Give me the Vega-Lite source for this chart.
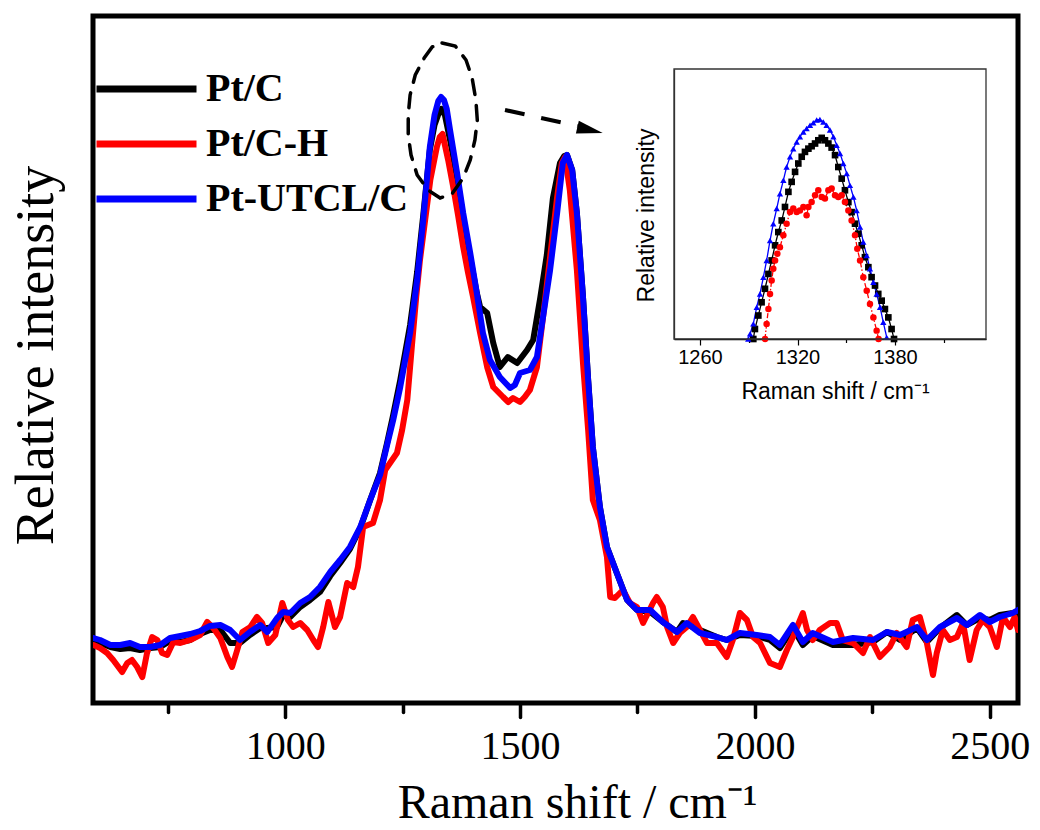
{
  "$schema": "https://vega.github.io/schema/vega-lite/v6.json",
  "width": 925,
  "height": 687,
  "autosize": {"type": "none"},
  "padding": {"left": 93, "top": 16, "right": 22, "bottom": 127},
  "config": {"view": {"stroke": "#000", "strokeWidth": 5}, "font": "Liberation Serif"},
  "datasets": {
    "main": [
      {"s":"Pt/C","x":592,"y":62},{"s":"Pt/C","x":606,"y":60},{"s":"Pt/C","x":628,"y":56},{"s":"Pt/C","x":649,"y":54},{"s":"Pt/C","x":670,"y":55},{"s":"Pt/C","x":691,"y":53},{"s":"Pt/C","x":713,"y":55},{"s":"Pt/C","x":734,"y":56},{"s":"Pt/C","x":755,"y":62},{"s":"Pt/C","x":777,"y":61},{"s":"Pt/C","x":798,"y":63},{"s":"Pt/C","x":819,"y":69},{"s":"Pt/C","x":840,"y":73},{"s":"Pt/C","x":862,"y":73},{"s":"Pt/C","x":883,"y":60},{"s":"Pt/C","x":904,"y":60},{"s":"Pt/C","x":925,"y":68},{"s":"Pt/C","x":947,"y":75},{"s":"Pt/C","x":962,"y":75},{"s":"Pt/C","x":983,"y":76},{"s":"Pt/C","x":996,"y":88},{"s":"Pt/C","x":1011,"y":86},{"s":"Pt/C","x":1032,"y":96},{"s":"Pt/C","x":1053,"y":103},{"s":"Pt/C","x":1074,"y":111},{"s":"Pt/C","x":1096,"y":127},{"s":"Pt/C","x":1117,"y":140},{"s":"Pt/C","x":1138,"y":154},{"s":"Pt/C","x":1160,"y":175},{"s":"Pt/C","x":1181,"y":203},{"s":"Pt/C","x":1202,"y":230},{"s":"Pt/C","x":1217,"y":260},{"s":"Pt/C","x":1230,"y":288},{"s":"Pt/C","x":1245,"y":323},{"s":"Pt/C","x":1266,"y":378},{"s":"Pt/C","x":1281,"y":431},{"s":"Pt/C","x":1294,"y":488},{"s":"Pt/C","x":1308,"y":553},{"s":"Pt/C","x":1318,"y":578},{"s":"Pt/C","x":1327,"y":590},{"s":"Pt/C","x":1333,"y":594},{"s":"Pt/C","x":1340,"y":588},{"s":"Pt/C","x":1351,"y":563},{"s":"Pt/C","x":1366,"y":525},{"s":"Pt/C","x":1379,"y":485},{"s":"Pt/C","x":1394,"y":445},{"s":"Pt/C","x":1408,"y":410},{"s":"Pt/C","x":1415,"y":396},{"s":"Pt/C","x":1430,"y":390},{"s":"Pt/C","x":1443,"y":360},{"s":"Pt/C","x":1457,"y":336},{"s":"Pt/C","x":1474,"y":346},{"s":"Pt/C","x":1494,"y":340},{"s":"Pt/C","x":1515,"y":353},{"s":"Pt/C","x":1528,"y":363},{"s":"Pt/C","x":1543,"y":405},{"s":"Pt/C","x":1557,"y":448},{"s":"Pt/C","x":1570,"y":505},{"s":"Pt/C","x":1585,"y":540},{"s":"Pt/C","x":1594,"y":547},{"s":"Pt/C","x":1600,"y":548},{"s":"Pt/C","x":1611,"y":533},{"s":"Pt/C","x":1621,"y":490},{"s":"Pt/C","x":1634,"y":406},{"s":"Pt/C","x":1645,"y":323},{"s":"Pt/C","x":1655,"y":256},{"s":"Pt/C","x":1670,"y":196},{"s":"Pt/C","x":1685,"y":156},{"s":"Pt/C","x":1706,"y":130},{"s":"Pt/C","x":1728,"y":103},{"s":"Pt/C","x":1749,"y":93},{"s":"Pt/C","x":1777,"y":91},{"s":"Pt/C","x":1804,"y":81},{"s":"Pt/C","x":1834,"y":71},{"s":"Pt/C","x":1847,"y":80},{"s":"Pt/C","x":1883,"y":73},{"s":"Pt/C","x":1919,"y":66},{"s":"Pt/C","x":1940,"y":63},{"s":"Pt/C","x":1968,"y":68},{"s":"Pt/C","x":2004,"y":67},{"s":"Pt/C","x":2032,"y":63},{"s":"Pt/C","x":2053,"y":55},{"s":"Pt/C","x":2081,"y":75},{"s":"Pt/C","x":2102,"y":58},{"s":"Pt/C","x":2123,"y":67},{"s":"Pt/C","x":2166,"y":58},{"s":"Pt/C","x":2209,"y":58},{"s":"Pt/C","x":2251,"y":61},{"s":"Pt/C","x":2281,"y":71},{"s":"Pt/C","x":2309,"y":63},{"s":"Pt/C","x":2345,"y":75},{"s":"Pt/C","x":2366,"y":61},{"s":"Pt/C","x":2394,"y":75},{"s":"Pt/C","x":2430,"y":88},{"s":"Pt/C","x":2451,"y":78},{"s":"Pt/C","x":2479,"y":85},{"s":"Pt/C","x":2500,"y":83},{"s":"Pt/C","x":2521,"y":88},{"s":"Pt/C","x":2549,"y":90},{"s":"Pt/C","x":2560,"y":91},
      {"s":"Pt/C-H","x":592,"y":58},{"s":"Pt/C-H","x":606,"y":55},{"s":"Pt/C-H","x":621,"y":50},{"s":"Pt/C-H","x":634,"y":43},{"s":"Pt/C-H","x":653,"y":31},{"s":"Pt/C-H","x":664,"y":40},{"s":"Pt/C-H","x":674,"y":43},{"s":"Pt/C-H","x":685,"y":36},{"s":"Pt/C-H","x":696,"y":26},{"s":"Pt/C-H","x":706,"y":50},{"s":"Pt/C-H","x":717,"y":66},{"s":"Pt/C-H","x":728,"y":63},{"s":"Pt/C-H","x":738,"y":50},{"s":"Pt/C-H","x":749,"y":48},{"s":"Pt/C-H","x":762,"y":61},{"s":"Pt/C-H","x":777,"y":60},{"s":"Pt/C-H","x":798,"y":63},{"s":"Pt/C-H","x":819,"y":68},{"s":"Pt/C-H","x":834,"y":81},{"s":"Pt/C-H","x":847,"y":75},{"s":"Pt/C-H","x":862,"y":65},{"s":"Pt/C-H","x":877,"y":46},{"s":"Pt/C-H","x":887,"y":36},{"s":"Pt/C-H","x":898,"y":53},{"s":"Pt/C-H","x":909,"y":71},{"s":"Pt/C-H","x":926,"y":76},{"s":"Pt/C-H","x":940,"y":86},{"s":"Pt/C-H","x":951,"y":80},{"s":"Pt/C-H","x":964,"y":60},{"s":"Pt/C-H","x":979,"y":68},{"s":"Pt/C-H","x":994,"y":100},{"s":"Pt/C-H","x":1006,"y":83},{"s":"Pt/C-H","x":1017,"y":76},{"s":"Pt/C-H","x":1032,"y":80},{"s":"Pt/C-H","x":1047,"y":73},{"s":"Pt/C-H","x":1060,"y":63},{"s":"Pt/C-H","x":1070,"y":56},{"s":"Pt/C-H","x":1081,"y":76},{"s":"Pt/C-H","x":1092,"y":101},{"s":"Pt/C-H","x":1106,"y":76},{"s":"Pt/C-H","x":1117,"y":86},{"s":"Pt/C-H","x":1132,"y":120},{"s":"Pt/C-H","x":1145,"y":116},{"s":"Pt/C-H","x":1155,"y":136},{"s":"Pt/C-H","x":1166,"y":176},{"s":"Pt/C-H","x":1187,"y":180},{"s":"Pt/C-H","x":1202,"y":203},{"s":"Pt/C-H","x":1213,"y":233},{"s":"Pt/C-H","x":1238,"y":250},{"s":"Pt/C-H","x":1249,"y":273},{"s":"Pt/C-H","x":1260,"y":303},{"s":"Pt/C-H","x":1270,"y":358},{"s":"Pt/C-H","x":1279,"y":406},{"s":"Pt/C-H","x":1287,"y":443},{"s":"Pt/C-H","x":1298,"y":483},{"s":"Pt/C-H","x":1309,"y":523},{"s":"Pt/C-H","x":1323,"y":556},{"s":"Pt/C-H","x":1329,"y":566},{"s":"Pt/C-H","x":1335,"y":569},{"s":"Pt/C-H","x":1347,"y":543},{"s":"Pt/C-H","x":1357,"y":518},{"s":"Pt/C-H","x":1368,"y":488},{"s":"Pt/C-H","x":1379,"y":456},{"s":"Pt/C-H","x":1389,"y":431},{"s":"Pt/C-H","x":1400,"y":406},{"s":"Pt/C-H","x":1415,"y":370},{"s":"Pt/C-H","x":1430,"y":336},{"s":"Pt/C-H","x":1443,"y":316},{"s":"Pt/C-H","x":1464,"y":306},{"s":"Pt/C-H","x":1475,"y":301},{"s":"Pt/C-H","x":1485,"y":305},{"s":"Pt/C-H","x":1500,"y":301},{"s":"Pt/C-H","x":1510,"y":306},{"s":"Pt/C-H","x":1521,"y":313},{"s":"Pt/C-H","x":1536,"y":336},{"s":"Pt/C-H","x":1549,"y":386},{"s":"Pt/C-H","x":1564,"y":446},{"s":"Pt/C-H","x":1579,"y":506},{"s":"Pt/C-H","x":1589,"y":540},{"s":"Pt/C-H","x":1596,"y":546},{"s":"Pt/C-H","x":1606,"y":513},{"s":"Pt/C-H","x":1621,"y":433},{"s":"Pt/C-H","x":1634,"y":340},{"s":"Pt/C-H","x":1645,"y":273},{"s":"Pt/C-H","x":1655,"y":203},{"s":"Pt/C-H","x":1670,"y":183},{"s":"Pt/C-H","x":1685,"y":146},{"s":"Pt/C-H","x":1692,"y":106},{"s":"Pt/C-H","x":1702,"y":105},{"s":"Pt/C-H","x":1719,"y":113},{"s":"Pt/C-H","x":1734,"y":100},{"s":"Pt/C-H","x":1749,"y":96},{"s":"Pt/C-H","x":1762,"y":80},{"s":"Pt/C-H","x":1783,"y":100},{"s":"Pt/C-H","x":1791,"y":106},{"s":"Pt/C-H","x":1804,"y":96},{"s":"Pt/C-H","x":1813,"y":76},{"s":"Pt/C-H","x":1826,"y":60},{"s":"Pt/C-H","x":1840,"y":70},{"s":"Pt/C-H","x":1855,"y":76},{"s":"Pt/C-H","x":1868,"y":86},{"s":"Pt/C-H","x":1883,"y":73},{"s":"Pt/C-H","x":1898,"y":60},{"s":"Pt/C-H","x":1919,"y":60},{"s":"Pt/C-H","x":1940,"y":46},{"s":"Pt/C-H","x":1953,"y":63},{"s":"Pt/C-H","x":1968,"y":90},{"s":"Pt/C-H","x":1983,"y":83},{"s":"Pt/C-H","x":1996,"y":66},{"s":"Pt/C-H","x":2011,"y":60},{"s":"Pt/C-H","x":2032,"y":40},{"s":"Pt/C-H","x":2053,"y":36},{"s":"Pt/C-H","x":2068,"y":53},{"s":"Pt/C-H","x":2081,"y":66},{"s":"Pt/C-H","x":2096,"y":83},{"s":"Pt/C-H","x":2102,"y":90},{"s":"Pt/C-H","x":2111,"y":73},{"s":"Pt/C-H","x":2123,"y":63},{"s":"Pt/C-H","x":2138,"y":73},{"s":"Pt/C-H","x":2160,"y":80},{"s":"Pt/C-H","x":2174,"y":80},{"s":"Pt/C-H","x":2187,"y":63},{"s":"Pt/C-H","x":2209,"y":60},{"s":"Pt/C-H","x":2230,"y":50},{"s":"Pt/C-H","x":2245,"y":66},{"s":"Pt/C-H","x":2266,"y":46},{"s":"Pt/C-H","x":2287,"y":56},{"s":"Pt/C-H","x":2302,"y":70},{"s":"Pt/C-H","x":2323,"y":56},{"s":"Pt/C-H","x":2336,"y":83},{"s":"Pt/C-H","x":2351,"y":86},{"s":"Pt/C-H","x":2366,"y":60},{"s":"Pt/C-H","x":2379,"y":28},{"s":"Pt/C-H","x":2387,"y":50},{"s":"Pt/C-H","x":2400,"y":73},{"s":"Pt/C-H","x":2415,"y":63},{"s":"Pt/C-H","x":2430,"y":66},{"s":"Pt/C-H","x":2443,"y":80},{"s":"Pt/C-H","x":2457,"y":43},{"s":"Pt/C-H","x":2472,"y":73},{"s":"Pt/C-H","x":2485,"y":83},{"s":"Pt/C-H","x":2500,"y":76},{"s":"Pt/C-H","x":2515,"y":56},{"s":"Pt/C-H","x":2528,"y":86},{"s":"Pt/C-H","x":2543,"y":76},{"s":"Pt/C-H","x":2553,"y":86},{"s":"Pt/C-H","x":2560,"y":73},
      {"s":"Pt-UTCL/C","x":592,"y":65},{"s":"Pt-UTCL/C","x":606,"y":63},{"s":"Pt-UTCL/C","x":628,"y":58},{"s":"Pt-UTCL/C","x":649,"y":58},{"s":"Pt-UTCL/C","x":670,"y":60},{"s":"Pt-UTCL/C","x":691,"y":56},{"s":"Pt-UTCL/C","x":713,"y":56},{"s":"Pt-UTCL/C","x":734,"y":58},{"s":"Pt-UTCL/C","x":755,"y":65},{"s":"Pt-UTCL/C","x":777,"y":67},{"s":"Pt-UTCL/C","x":798,"y":69},{"s":"Pt-UTCL/C","x":819,"y":72},{"s":"Pt-UTCL/C","x":840,"y":77},{"s":"Pt-UTCL/C","x":862,"y":78},{"s":"Pt-UTCL/C","x":883,"y":73},{"s":"Pt-UTCL/C","x":904,"y":63},{"s":"Pt-UTCL/C","x":925,"y":71},{"s":"Pt-UTCL/C","x":947,"y":78},{"s":"Pt-UTCL/C","x":962,"y":71},{"s":"Pt-UTCL/C","x":983,"y":85},{"s":"Pt-UTCL/C","x":996,"y":91},{"s":"Pt-UTCL/C","x":1011,"y":90},{"s":"Pt-UTCL/C","x":1032,"y":100},{"s":"Pt-UTCL/C","x":1053,"y":106},{"s":"Pt-UTCL/C","x":1074,"y":116},{"s":"Pt-UTCL/C","x":1096,"y":131},{"s":"Pt-UTCL/C","x":1117,"y":143},{"s":"Pt-UTCL/C","x":1138,"y":156},{"s":"Pt-UTCL/C","x":1160,"y":176},{"s":"Pt-UTCL/C","x":1181,"y":203},{"s":"Pt-UTCL/C","x":1202,"y":228},{"s":"Pt-UTCL/C","x":1217,"y":258},{"s":"Pt-UTCL/C","x":1230,"y":283},{"s":"Pt-UTCL/C","x":1245,"y":316},{"s":"Pt-UTCL/C","x":1266,"y":370},{"s":"Pt-UTCL/C","x":1281,"y":423},{"s":"Pt-UTCL/C","x":1294,"y":483},{"s":"Pt-UTCL/C","x":1308,"y":556},{"s":"Pt-UTCL/C","x":1318,"y":588},{"s":"Pt-UTCL/C","x":1326,"y":602},{"s":"Pt-UTCL/C","x":1332,"y":606},{"s":"Pt-UTCL/C","x":1338,"y":603},{"s":"Pt-UTCL/C","x":1344,"y":594},{"s":"Pt-UTCL/C","x":1351,"y":573},{"s":"Pt-UTCL/C","x":1366,"y":530},{"s":"Pt-UTCL/C","x":1379,"y":490},{"s":"Pt-UTCL/C","x":1394,"y":450},{"s":"Pt-UTCL/C","x":1408,"y":410},{"s":"Pt-UTCL/C","x":1421,"y":370},{"s":"Pt-UTCL/C","x":1436,"y":343},{"s":"Pt-UTCL/C","x":1457,"y":326},{"s":"Pt-UTCL/C","x":1479,"y":315},{"s":"Pt-UTCL/C","x":1489,"y":318},{"s":"Pt-UTCL/C","x":1500,"y":330},{"s":"Pt-UTCL/C","x":1521,"y":333},{"s":"Pt-UTCL/C","x":1536,"y":346},{"s":"Pt-UTCL/C","x":1549,"y":386},{"s":"Pt-UTCL/C","x":1564,"y":433},{"s":"Pt-UTCL/C","x":1579,"y":490},{"s":"Pt-UTCL/C","x":1591,"y":540},{"s":"Pt-UTCL/C","x":1600,"y":548},{"s":"Pt-UTCL/C","x":1611,"y":533},{"s":"Pt-UTCL/C","x":1621,"y":490},{"s":"Pt-UTCL/C","x":1634,"y":406},{"s":"Pt-UTCL/C","x":1645,"y":323},{"s":"Pt-UTCL/C","x":1655,"y":256},{"s":"Pt-UTCL/C","x":1670,"y":196},{"s":"Pt-UTCL/C","x":1685,"y":156},{"s":"Pt-UTCL/C","x":1706,"y":130},{"s":"Pt-UTCL/C","x":1728,"y":103},{"s":"Pt-UTCL/C","x":1749,"y":93},{"s":"Pt-UTCL/C","x":1777,"y":93},{"s":"Pt-UTCL/C","x":1804,"y":81},{"s":"Pt-UTCL/C","x":1834,"y":71},{"s":"Pt-UTCL/C","x":1855,"y":80},{"s":"Pt-UTCL/C","x":1883,"y":70},{"s":"Pt-UTCL/C","x":1919,"y":66},{"s":"Pt-UTCL/C","x":1940,"y":63},{"s":"Pt-UTCL/C","x":1968,"y":70},{"s":"Pt-UTCL/C","x":2004,"y":68},{"s":"Pt-UTCL/C","x":2032,"y":66},{"s":"Pt-UTCL/C","x":2053,"y":58},{"s":"Pt-UTCL/C","x":2081,"y":78},{"s":"Pt-UTCL/C","x":2102,"y":61},{"s":"Pt-UTCL/C","x":2123,"y":70},{"s":"Pt-UTCL/C","x":2166,"y":61},{"s":"Pt-UTCL/C","x":2209,"y":65},{"s":"Pt-UTCL/C","x":2251,"y":63},{"s":"Pt-UTCL/C","x":2281,"y":71},{"s":"Pt-UTCL/C","x":2309,"y":68},{"s":"Pt-UTCL/C","x":2345,"y":76},{"s":"Pt-UTCL/C","x":2366,"y":63},{"s":"Pt-UTCL/C","x":2394,"y":76},{"s":"Pt-UTCL/C","x":2430,"y":85},{"s":"Pt-UTCL/C","x":2451,"y":78},{"s":"Pt-UTCL/C","x":2479,"y":88},{"s":"Pt-UTCL/C","x":2500,"y":81},{"s":"Pt-UTCL/C","x":2521,"y":86},{"s":"Pt-UTCL/C","x":2549,"y":90},{"s":"Pt-UTCL/C","x":2560,"y":93}
    ],
    "ell": [
      {"i":0,"x":1334,"y":660},{"i":1,"x":1362,"y":657},{"i":2,"x":1385,"y":643},{"i":3,"x":1398,"y":625},{"i":4,"x":1406,"y":603},{"i":5,"x":1409,"y":583},{"i":6,"x":1404,"y":563},{"i":7,"x":1394,"y":543},{"i":8,"x":1379,"y":525},{"i":9,"x":1355,"y":509},{"i":10,"x":1330,"y":505},{"i":11,"x":1304,"y":513},{"i":12,"x":1281,"y":528},{"i":13,"x":1268,"y":548},{"i":14,"x":1262,"y":568},{"i":15,"x":1262,"y":588},{"i":16,"x":1266,"y":608},{"i":17,"x":1277,"y":628},{"i":18,"x":1296,"y":645},{"i":19,"x":1313,"y":656},{"i":20,"x":1334,"y":660}
    ],
    "arr": [{"x":1468,"y":593},{"x":1623,"y":577}],
    "ins": [
      {"s":"Pt/C","x":1292.8,"y":0},{"s":"Pt/C","x":1293.8,"y":3.7},{"s":"Pt/C","x":1295.9,"y":8.7},{"s":"Pt/C","x":1297.9,"y":13.6},{"s":"Pt/C","x":1300,"y":18.6},{"s":"Pt/C","x":1302.1,"y":24.1},{"s":"Pt/C","x":1304.1,"y":29.1},{"s":"Pt/C","x":1306.2,"y":34.7},{"s":"Pt/C","x":1308.2,"y":39.6},{"s":"Pt/C","x":1310.3,"y":43.9},{"s":"Pt/C","x":1312.3,"y":48.9},{"s":"Pt/C","x":1314.4,"y":54.5},{"s":"Pt/C","x":1316.4,"y":58.2},{"s":"Pt/C","x":1318.5,"y":61.9},{"s":"Pt/C","x":1320.5,"y":65},{"s":"Pt/C","x":1322.6,"y":67.5},{"s":"Pt/C","x":1324.6,"y":69.3},{"s":"Pt/C","x":1326.7,"y":70.5},{"s":"Pt/C","x":1328.7,"y":71.4},{"s":"Pt/C","x":1330.8,"y":72.4},{"s":"Pt/C","x":1332.8,"y":73.6},{"s":"Pt/C","x":1334.9,"y":74.5},{"s":"Pt/C","x":1336.9,"y":73.6},{"s":"Pt/C","x":1339,"y":72.4},{"s":"Pt/C","x":1341,"y":70.9},{"s":"Pt/C","x":1343.1,"y":68.1},{"s":"Pt/C","x":1345.1,"y":63.7},{"s":"Pt/C","x":1347.2,"y":59.4},{"s":"Pt/C","x":1349.2,"y":55.1},{"s":"Pt/C","x":1351.3,"y":50.7},{"s":"Pt/C","x":1353.3,"y":47},{"s":"Pt/C","x":1355.4,"y":42.7},{"s":"Pt/C","x":1357.4,"y":39},{"s":"Pt/C","x":1359.5,"y":34.7},{"s":"Pt/C","x":1361.5,"y":30.3},{"s":"Pt/C","x":1363.6,"y":26.6},{"s":"Pt/C","x":1365.6,"y":22.9},{"s":"Pt/C","x":1367.7,"y":19.8},{"s":"Pt/C","x":1369.7,"y":16.7},{"s":"Pt/C","x":1371.8,"y":14.2},{"s":"Pt/C","x":1373.8,"y":11.1},{"s":"Pt/C","x":1375.9,"y":8},{"s":"Pt/C","x":1377.9,"y":3.7},{"s":"Pt/C","x":1379.4,"y":0},
      {"s":"Pt/C-H","x":1300,"y":0},{"s":"Pt/C-H","x":1301,"y":5.6},{"s":"Pt/C-H","x":1302.1,"y":11.1},{"s":"Pt/C-H","x":1303.1,"y":16.7},{"s":"Pt/C-H","x":1304.1,"y":21.7},{"s":"Pt/C-H","x":1305.1,"y":26},{"s":"Pt/C-H","x":1306.2,"y":29.1},{"s":"Pt/C-H","x":1307.6,"y":31.6},{"s":"Pt/C-H","x":1309.2,"y":34},{"s":"Pt/C-H","x":1311.3,"y":38.4},{"s":"Pt/C-H","x":1313.3,"y":42.7},{"s":"Pt/C-H","x":1315.4,"y":47},{"s":"Pt/C-H","x":1317.4,"y":48.3},{"s":"Pt/C-H","x":1319.5,"y":47},{"s":"Pt/C-H","x":1321.5,"y":47.6},{"s":"Pt/C-H","x":1323.6,"y":48.9},{"s":"Pt/C-H","x":1325.6,"y":45.8},{"s":"Pt/C-H","x":1326.7,"y":48.9},{"s":"Pt/C-H","x":1328.7,"y":50.7},{"s":"Pt/C-H","x":1330.8,"y":53.2},{"s":"Pt/C-H","x":1332.8,"y":55.1},{"s":"Pt/C-H","x":1334.9,"y":52.6},{"s":"Pt/C-H","x":1336.9,"y":52},{"s":"Pt/C-H","x":1339,"y":55.1},{"s":"Pt/C-H","x":1341,"y":55.7},{"s":"Pt/C-H","x":1343.1,"y":53.2},{"s":"Pt/C-H","x":1345.1,"y":52.6},{"s":"Pt/C-H","x":1347.2,"y":53.2},{"s":"Pt/C-H","x":1349.2,"y":50.7},{"s":"Pt/C-H","x":1351.3,"y":47.6},{"s":"Pt/C-H","x":1353.3,"y":43.9},{"s":"Pt/C-H","x":1355.4,"y":38.4},{"s":"Pt/C-H","x":1356.8,"y":33.4},{"s":"Pt/C-H","x":1358.5,"y":29.1},{"s":"Pt/C-H","x":1360.5,"y":22.9},{"s":"Pt/C-H","x":1362.6,"y":17.9},{"s":"Pt/C-H","x":1364.6,"y":13},{"s":"Pt/C-H","x":1366.7,"y":8},{"s":"Pt/C-H","x":1368.7,"y":3.1},{"s":"Pt/C-H","x":1369.9,"y":0},
      {"s":"Pt-UTCL/C","x":1289.7,"y":0},{"s":"Pt-UTCL/C","x":1290.8,"y":1.9},{"s":"Pt-UTCL/C","x":1292.8,"y":5.6},{"s":"Pt-UTCL/C","x":1294.9,"y":11.8},{"s":"Pt-UTCL/C","x":1296.9,"y":16.7},{"s":"Pt-UTCL/C","x":1299,"y":22.9},{"s":"Pt-UTCL/C","x":1301,"y":29.1},{"s":"Pt-UTCL/C","x":1303.1,"y":36.5},{"s":"Pt-UTCL/C","x":1305.1,"y":42.7},{"s":"Pt-UTCL/C","x":1307.2,"y":48.3},{"s":"Pt-UTCL/C","x":1309.2,"y":53.8},{"s":"Pt-UTCL/C","x":1311.3,"y":58.8},{"s":"Pt-UTCL/C","x":1313.3,"y":63.7},{"s":"Pt-UTCL/C","x":1315.4,"y":67.5},{"s":"Pt-UTCL/C","x":1317.4,"y":70.5},{"s":"Pt-UTCL/C","x":1319.5,"y":73},{"s":"Pt-UTCL/C","x":1321.5,"y":74.9},{"s":"Pt-UTCL/C","x":1323.6,"y":76.7},{"s":"Pt-UTCL/C","x":1325.6,"y":78},{"s":"Pt-UTCL/C","x":1327.7,"y":79.2},{"s":"Pt-UTCL/C","x":1329.7,"y":80.1},{"s":"Pt-UTCL/C","x":1331.8,"y":81.1},{"s":"Pt-UTCL/C","x":1333.8,"y":81.3},{"s":"Pt-UTCL/C","x":1335.9,"y":80.4},{"s":"Pt-UTCL/C","x":1337.9,"y":79.2},{"s":"Pt-UTCL/C","x":1340,"y":77.4},{"s":"Pt-UTCL/C","x":1342.1,"y":74.9},{"s":"Pt-UTCL/C","x":1344.1,"y":71.8},{"s":"Pt-UTCL/C","x":1346.2,"y":68.7},{"s":"Pt-UTCL/C","x":1348.2,"y":65},{"s":"Pt-UTCL/C","x":1350.3,"y":61.3},{"s":"Pt-UTCL/C","x":1352.3,"y":56.9},{"s":"Pt-UTCL/C","x":1354.4,"y":52.6},{"s":"Pt-UTCL/C","x":1356.4,"y":47.6},{"s":"Pt-UTCL/C","x":1358.5,"y":41.5},{"s":"Pt-UTCL/C","x":1360.5,"y":35.9},{"s":"Pt-UTCL/C","x":1362.6,"y":30.9},{"s":"Pt-UTCL/C","x":1364.6,"y":26},{"s":"Pt-UTCL/C","x":1366.7,"y":21},{"s":"Pt-UTCL/C","x":1368.7,"y":16.7},{"s":"Pt-UTCL/C","x":1370.8,"y":11.8},{"s":"Pt-UTCL/C","x":1372.8,"y":6.2},{"s":"Pt-UTCL/C","x":1374.9,"y":0.6}
    ]
  },
  "layer": [
    {
      "layer": [
        {
          "data": {"name": "main"},
          "mark": {"type": "line", "strokeWidth": 6, "strokeJoin": "round", "strokeCap": "round", "clip": true},
          "encoding": {
            "x": {
              "field": "x", "type": "quantitative",
              "scale": {"domain": [591, 2560], "nice": false, "zero": false},
              "axis": {
                "orient": "bottom", "values": [750, 1000, 1250, 1500, 1750, 2000, 2250, 2500],
                "format": "d",
                "labelExpr": "datum.value % 500 === 0 ? datum.label : ''",
                "tickSize": {"condition": {"test": "datum.value % 500 === 0", "value": 14}, "value": 9},
                "tickWidth": 3.5, "tickColor": "#000", "tickCap": "round",
                "domain": false, "grid": false,
                "labelFont": "Liberation Serif", "labelFontSize": 40, "labelColor": "#000",
                "labelPadding": 9, "labelFlush": false, "labelOverlap": false,
                "title": "Raman shift / cm⁻¹", "titleFont": "Liberation Serif", "titleFontSize": 48,
                "titleFontWeight": "normal", "titleColor": "#000",
                "titleX": 484, "titleY": 114, "titleBaseline": "alphabetic", "titleAlign": "center"
              }
            },
            "y": {
              "field": "y", "type": "quantitative",
              "scale": {"domain": [0, 687], "nice": false},
              "axis": {
                "orient": "left", "ticks": false, "labels": false, "domain": false, "grid": false,
                "title": "Relative intensity", "titleFont": "Liberation Serif", "titleFontSize": 54,
                "titleFontWeight": "normal", "titleColor": "#000",
                "titleX": -41, "titleY": 339, "titleAngle": 270, "titleBaseline": "alphabetic", "titleAlign": "center"
              }
            },
            "color": {
              "field": "s", "type": "nominal",
              "scale": {"domain": ["Pt/C", "Pt/C-H", "Pt-UTCL/C"], "range": ["#000000", "#ff0000", "#0000ff"]},
              "legend": {
                "orient": "none", "legendX": 0, "legendY": 53, "title": null,
                "symbolType": "stroke", "symbolSize": 10000, "symbolStrokeWidth": 7,
                "clipHeight": 40,
                "labelFont": "Liberation Serif", "labelFontSize": 40, "labelFontWeight": "bold",
                "labelColor": "#000", "labelOffset": 6, "rowPadding": 15, "padding": 0, "labelLimit": 0
              }
            }
          }
        },
        {
          "data": {"name": "ell"},
          "mark": {"type": "line", "stroke": "#000", "strokeWidth": 3.5, "strokeDash": [15, 11], "strokeCap": "round"},
          "encoding": {
            "x": {"field": "x", "type": "quantitative"},
            "y": {"field": "y", "type": "quantitative"},
            "order": {"field": "i", "type": "quantitative"}
          }
        },
        {
          "data": {"name": "arr"},
          "mark": {"type": "line", "stroke": "#000", "strokeWidth": 4, "strokeDash": [20, 17]},
          "encoding": {
            "x": {"field": "x", "type": "quantitative"},
            "y": {"field": "y", "type": "quantitative"}
          }
        },
        {
          "data": {"values": [{}]},
          "mark": {"type": "point", "shape": "M-1,-0.5L1,0L-1,0.5Z", "filled": true, "color": "#000", "opacity": 1, "size": 676, "angle": 13},
          "encoding": {
            "x": {"datum": 1649, "type": "quantitative"},
            "y": {"datum": 573, "type": "quantitative"}
          }
        }
      ]
    },
    {
      "layer": [
        {
          "data": {"name": "ins"},
          "mark": {"type": "line", "strokeWidth": 1.3},
          "encoding": {
            "x": {
              "field": "x", "type": "quantitative",
              "scale": {"domain": [1244, 1436], "range": [581, 893], "nice": false, "zero": false},
              "axis": {
                "orient": "bottom", "offset": -364, "values": [1260, 1290, 1320, 1350, 1380, 1410],
                "format": "d",
                "labelExpr": "datum.value % 60 === 0 ? datum.label : ''",
                "tickSize": {"condition": {"test": "datum.value % 60 === 0", "value": 6}, "value": 3.5},
                "tickWidth": 1.2, "tickColor": "#000", "domainColor": "#000", "domainWidth": 1.3, "grid": false,
                "labelFont": "Liberation Sans", "labelFontSize": 20, "labelColor": "#000",
                "labelPadding": 2, "labelFlush": false, "labelOverlap": false,
                "title": "Raman shift / cm⁻¹", "titleFont": "Liberation Sans", "titleFontSize": 23,
                "titleFontWeight": "normal", "titleColor": "#000",
                "titleX": 742, "titleY": 59, "titleBaseline": "alphabetic", "titleAlign": "center"
              }
            },
            "y": {
              "field": "y", "type": "quantitative",
              "scale": {"domain": [0, 100], "range": [323, 53], "nice": false},
              "axis": {
                "orient": "left", "offset": -581, "ticks": false, "labels": false, "grid": false,
                "domainColor": "#333", "domainWidth": 1.3,
                "title": "Relative intensity", "titleFont": "Liberation Sans", "titleFontSize": 23,
                "titleFontWeight": "normal", "titleColor": "#000",
                "titleX": -21, "titleY": 199, "titleAngle": 270, "titleBaseline": "alphabetic", "titleAlign": "center"
              }
            },
            "color": {
              "field": "s", "type": "nominal",
              "scale": {"domain": ["Pt/C", "Pt/C-H", "Pt-UTCL/C"], "range": ["#000000", "#ff0000", "#0000ff"]},
              "legend": null
            },
            "strokeDash": {
              "field": "s", "type": "nominal",
              "scale": {"domain": ["Pt/C", "Pt/C-H", "Pt-UTCL/C"], "range": [[1, 0], [5, 2, 1.5, 2], [1, 0]]},
              "legend": null
            }
          }
        },
        {
          "data": {"name": "ins"},
          "mark": {"type": "point", "filled": true, "opacity": 1},
          "encoding": {
            "x": {"field": "x", "type": "quantitative"},
            "y": {"field": "y", "type": "quantitative"},
            "color": {"field": "s", "type": "nominal", "legend": null},
            "shape": {
              "field": "s", "type": "nominal",
              "scale": {"domain": ["Pt/C", "Pt/C-H", "Pt-UTCL/C"], "range": ["square", "circle", "triangle-up"]},
              "legend": null
            },
            "size": {
              "field": "s", "type": "nominal",
              "scale": {"domain": ["Pt/C", "Pt/C-H", "Pt-UTCL/C"], "range": [44, 40, 68]},
              "legend": null
            }
          }
        },
        {
          "data": {"values": [{}]},
          "mark": {"type": "rect", "fillOpacity": 0, "stroke": "#333", "strokeWidth": 1.3},
          "encoding": {
            "x": {"datum": 1244, "type": "quantitative"},
            "x2": {"datum": 1436},
            "y": {"datum": 0, "type": "quantitative"},
            "y2": {"datum": 100}
          }
        }
      ]
    }
  ],
  "resolve": {
    "scale": {"x": "independent", "y": "independent", "color": "independent"},
    "axis": {"x": "independent", "y": "independent"},
    "legend": {"color": "independent"}
  }
}
